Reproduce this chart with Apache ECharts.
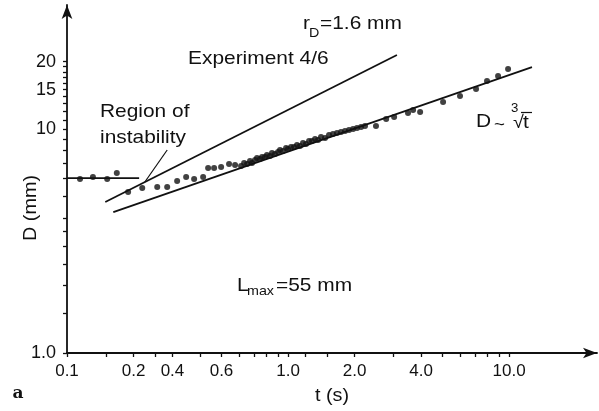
<!DOCTYPE html>
<html>
<head>
<meta charset="utf-8">
<script src="https://cdn.jsdelivr.net/npm/echarts@6/dist/echarts.min.js"></script>
<style>html,body{margin:0;padding:0;background:#fff;}#c{width:599px;height:411px;}</style>
</head>
<body>
<div id="c"></div>
<script>
// ---- data (t in s, D in mm) ----
var instabT = [0.1145, 0.131, 0.152, 0.168];
var instabD = [5.98, 6.10, 5.98, 6.36];

var dotT = [0.189, 0.219, 0.256, 0.284, 0.315, 0.346, 0.376, 0.413, 0.435, 0.463, 0.498, 0.541, 0.576,
  0.613, 0.633, 0.653, 0.673, 0.687, 0.709, 0.724, 0.747, 0.763, 0.787, 0.803, 0.829, 0.846, 0.873,
  0.901, 0.920, 0.949, 0.980, 1.000, 1.032, 1.065, 1.098, 1.133, 1.169, 1.206, 1.245, 1.284, 1.325,
  1.367, 1.410, 1.471, 1.533, 1.598, 1.666, 1.737, 1.811, 1.888, 1.969, 2.052, 2.140,
  2.23, 2.50, 2.78, 3.02, 3.49, 3.68, 3.96, 5.03, 6.00, 7.09, 7.95, 8.92, 9.90];
var dotD = [5.23, 5.45, 5.51, 5.51, 5.86, 6.11, 5.98, 6.11, 6.70, 6.70, 6.77, 6.98, 6.91,
  6.84, 7.05, 6.98, 7.20, 7.05, 7.27, 7.42, 7.35, 7.50, 7.50, 7.66, 7.58, 7.81, 7.73,
  7.89, 8.06, 7.98, 8.23, 8.14, 8.31, 8.31, 8.48, 8.40, 8.66, 8.57, 8.84, 8.84, 9.03,
  8.93, 9.21, 9.12, 9.40, 9.50, 9.60, 9.70, 9.80, 9.90, 10.0, 10.10, 10.21,
  10.31, 10.31, 11.08, 11.31, 11.79, 12.16, 11.91, 13.20, 14.04, 15.09, 16.38, 17.24, 18.53];

var instabLineT = [0.1, 0.212];
var instabLineD = [6.04, 6.04];
var expLineT = [0.149, 3.11];     // r_D = 1.6 mm, Experiment 4/6
var expLineD = [4.72, 21.4];
var fitLineT = [0.162, 12.7];     // D ~ t^(1/3)
var fitLineD = [4.26, 18.9];
var pointerT = [0.284, 0.225];    // "Region of instability" leader
var pointerD = [8.06, 5.80];

var xLabelPos = [0.1, 0.2, 0.3, 0.5, 1, 2, 4, 10];
var xLabelText = ['0.1', '0.2', '0.4', '0.6', '1.0', '2.0', '4.0', '10.0'];
var xTickPos = [0.1, 0.15, 0.2, 0.25, 0.3, 0.4, 0.5, 0.6, 0.7, 0.8, 0.9, 1, 1.2, 1.5, 2, 3, 4, 5, 6, 7, 8, 9, 10];
var yLabelPos = [1, 10, 15, 20];
var yLabelText = ['1.0', '10', '15', '20'];
var yTickPos = [1, 1.5, 2, 2.5, 3, 3.5, 4, 5, 6, 7, 8, 9, 10, 11, 12, 13, 14, 15, 16, 17, 18, 19, 20];

function pairs(a, b) { return a.map(function (v, i) { return [v, b[i]]; }); }

var FONT = 'Liberation Sans, Arial, Helvetica, sans-serif';
var INK = '#111';

var chart = echarts.init(document.getElementById('c'), null, {renderer: 'canvas'});

function lineSeries(t, d) {
  return {
    type: 'line', data: pairs(t, d), showSymbol: false, silent: true,
    lineStyle: {color: INK, width: 1.8}, z: 3
  };
}

function txt(x, y, s, size, extra) {
  var o = {
    type: 'text', x: x, y: y, scaleX: 1.1,
    style: {text: s, font: size + 'px ' + FONT, fill: INK, textVerticalAlign: 'middle', verticalAlign: 'middle'}
  };
  if (extra) for (var k in extra) o[k] = extra[k];
  return o;
}

chart.setOption({
  animation: false,
  backgroundColor: '#fff',
  grid: {left: 67, right: 2, top: 5, bottom: 58, containLabel: false},
  xAxis: {
    type: 'log', logBase: 10, min: 0.1, max: 25,
    axisLine: {show: true, lineStyle: {color: INK, width: 1.8}, symbol: ['none', 'arrow'], symbolSize: [8, 14]},
    axisTick: {show: true, customValues: xTickPos, length: 4, lineStyle: {color: INK, width: 1.3}},
    axisLabel: {
      customValues: xLabelPos, margin: 10, color: INK, fontSize: 17, fontFamily: FONT,
      formatter: function (v) {
        for (var i = 0; i < xLabelPos.length; i++) if (Math.abs(xLabelPos[i] - v) < 1e-6 * Math.max(1, v)) return xLabelText[i];
        return '';
      }
    },
    splitLine: {show: false}, minorTick: {show: false}, minorSplitLine: {show: false}
  },
  yAxis: {
    type: 'log', logBase: 10, min: 1, max: 35.8,
    axisLine: {show: true, lineStyle: {color: INK, width: 1.8}, symbol: ['none', 'arrow'], symbolSize: [8, 14]},
    axisTick: {show: true, customValues: yTickPos, length: 4, lineStyle: {color: INK, width: 1.3}},
    axisLabel: {
      customValues: yLabelPos, margin: 11, color: INK, fontSize: 18, fontFamily: FONT,
      formatter: function (v) {
        for (var i = 0; i < yLabelPos.length; i++) if (Math.abs(yLabelPos[i] - v) < 1e-6 * Math.max(1, v)) return yLabelText[i];
        return '';
      }
    },
    splitLine: {show: false}, minorTick: {show: false}, minorSplitLine: {show: false}
  },
  series: [
    lineSeries(instabLineT, instabLineD),
    lineSeries(expLineT, expLineD),
    lineSeries(fitLineT, fitLineD),
    {type: 'line', data: pairs(pointerT, pointerD), showSymbol: false, silent: true, lineStyle: {color: INK, width: 1.2}, z: 3},
    {type: 'scatter', data: pairs(instabT, instabD), symbol: 'circle', symbolSize: 6, itemStyle: {color: INK}, z: 4},
    {type: 'scatter', data: pairs(dotT, dotD), symbol: 'circle', symbolSize: 6, itemStyle: {color: INK}, z: 4}
  ],
  graphic: [
    txt(303, 24, 'r', 19),
    txt(309, 33, 'D', 13),
    txt(320, 24, '=1.6 mm', 19),
    txt(188, 59, 'Experiment 4/6', 19),
    txt(100, 112, 'Region of', 19),
    txt(100, 138, 'instability', 19),
    txt(476, 122, 'D', 19),
    txt(494, 125, '~', 17),
    txt(511, 109, '3', 12),
    txt(513, 123, '\u221A', 18),
    txt(523, 123, 't', 19),
    {type: 'line', shape: {x1: 521, y1: 112.5, x2: 532, y2: 112.5}, style: {stroke: INK, lineWidth: 1.2}},
    txt(237, 286, 'L', 19),
    txt(247, 291, 'max', 13),
    txt(276, 286, '=55 mm', 19),
    txt(31, 208, 'D (mm)', 18, {rotation: Math.PI / 2, style: {text: 'D (mm)', font: '18px ' + FONT, fill: INK, align: 'center', textAlign: 'center', verticalAlign: 'middle', textVerticalAlign: 'middle'}}),
    txt(332, 396, 't (s)', 18, {style: {text: 't (s)', font: '18px ' + FONT, fill: INK, align: 'center', textAlign: 'center', verticalAlign: 'middle', textVerticalAlign: 'middle'}}),
    {type: 'text', x: 18, y: 394, style: {text: 'a', font: 'bold 17px "DejaVu Serif", "Liberation Serif", serif', fill: INK, align: 'center', verticalAlign: 'middle'}}
  ]
});
</script>
</body>
</html>
